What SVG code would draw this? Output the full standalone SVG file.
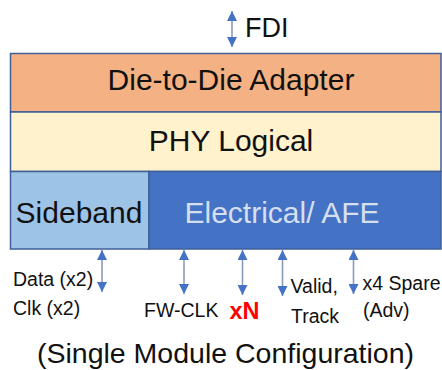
<svg xmlns="http://www.w3.org/2000/svg" width="442" height="370" viewBox="0 0 442 370">
<defs>
<marker id="ah" viewBox="0 0 10 10" refX="10" refY="5" markerWidth="10" markerHeight="10" markerUnits="userSpaceOnUse" orient="auto-start-reverse">
<path d="M0,0 L10,5 L0,10 Z" fill="#4472c4"/>
</marker>
<style>
.box{stroke:#3f5f99;stroke-width:1.5}
.t{font-family:"Liberation Sans",Arial,sans-serif;fill:#111}
.big{font-size:30px;text-anchor:middle}
.sm{font-size:19.5px}
.conn{stroke:#8a9cbc;stroke-width:1.6;fill:none;marker-start:url(#ah);marker-end:url(#ah)}
</style>
</defs>
<g id="fdi">
<text class="t" x="245" y="37" font-size="27">FDI</text>
</g>
<g id="d2d">
<rect class="box" x="10.5" y="53.5" width="430.5" height="58.5" fill="#f4b183"/>
<text class="t big" x="231" y="89.5" font-size="30.5">Die-to-Die Adapter</text>
</g>
<g id="phy">
<rect class="box" x="10.5" y="112" width="430.5" height="59.5" fill="#fff2cc"/>
<text class="t big" x="231" y="150.5" font-size="28.5">PHY Logical</text>
</g>
<g id="sideband">
<rect class="box" x="10.5" y="171.5" width="138.5" height="77.5" fill="#9dc3e6"/>
<text class="t big" x="79" y="222.5">Sideband</text>
</g>
<g id="electrical">
<rect class="box" x="149" y="171.5" width="292" height="77.5" fill="#4472c4"/>
<text class="t big" x="282" y="222.5" style="fill:#d6dfee">Electrical/ AFE</text>
</g>
<g id="connectors">
<line class="conn" x1="232" y1="11" x2="232" y2="47"/>
<line class="conn" x1="102" y1="250" x2="102" y2="292"/>
<line class="conn" x1="184" y1="250" x2="184" y2="294"/>
<line class="conn" x1="242.5" y1="250" x2="242.5" y2="295"/>
<line class="conn" x1="282.5" y1="250" x2="282.5" y2="296"/>
<line class="conn" x1="353.5" y1="250" x2="353.5" y2="294"/>
</g>
<g id="labels">
<text class="t sm" x="13" y="285.5">Data (x2)</text>
<text class="t sm" x="13" y="315">Clk (x2)</text>
<text class="t sm" x="144" y="316.5" font-size="18">FW-CLK</text>
<text class="t" x="229.5" y="318.5" font-size="23.5" font-weight="bold" style="fill:#ff0000">xN</text>
<text class="t sm" x="290.5" y="292.5">Valid,</text>
<text class="t sm" x="291" y="322.5">Track</text>
<text class="t sm" x="362.5" y="290">x4 Spare</text>
<text class="t sm" x="363" y="317">(Adv)</text>
<text class="t" x="225.5" y="363.3" font-size="28.5" text-anchor="middle">(Single Module Configuration)</text>
</g>
</svg>
